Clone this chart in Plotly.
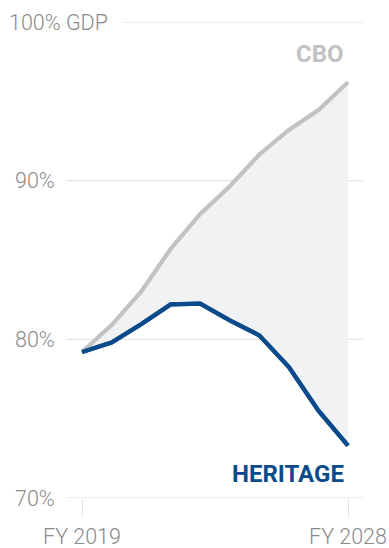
import plotly.graph_objects as go

years = [2019, 2020, 2021, 2022, 2023, 2024, 2025, 2026, 2027, 2028]
cbo = [79.2, 80.9, 83.0, 85.7, 87.9, 89.65, 91.65, 93.2, 94.45, 96.2]
heritage = [79.2, 79.8, 80.95, 82.2, 82.25, 81.2, 80.25, 78.25, 75.5, 73.3]
y_ticks = [70, 80, 90, 100]
y_tick_text = ["70%", "80%", "90%", "100% GDP"]
x_ticks = [2019, 2028]
x_tick_text = ["FY 2019", "FY 2028"]

W, H = 389, 548
L, R, T, B = 67, 26, 21.7, 50.3
PW = W - L - R

def px_to_paper(px):
    return (px - L) / PW

GRAY_TXT = "#8a8a8a"
CBO_COL = "#c2c2c2"
HER_COL = "#0b4a8b"
FILL_COL = "#f1f2f4"
GRID_COL = "#e4e4e4"

fig = go.Figure()
fig.add_trace(go.Scatter(x=years, y=heritage, mode="lines",
                         line=dict(color=HER_COL, width=4.2), showlegend=False,
                         hoverinfo="skip"))
fig.add_trace(go.Scatter(x=years, y=cbo, mode="lines", fill="tonexty",
                         fillcolor=FILL_COL,
                         line=dict(color=CBO_COL, width=4.2), showlegend=False,
                         hoverinfo="skip"))
fig.add_trace(go.Scatter(x=years, y=heritage, mode="lines",
                         line=dict(color=HER_COL, width=4.2), showlegend=False,
                         hoverinfo="skip"))

shapes = []
annotations = []
for v, t in zip(y_ticks, y_tick_text):
    x0 = 0 if v != 100 else px_to_paper(123)
    shapes.append(dict(type="line", xref="paper", yref="y", x0=x0, x1=1,
                       y0=v, y1=v, line=dict(color=GRID_COL, width=1.3),
                       layer="below"))
    if v == 100:
        annotations.append(dict(x=px_to_paper(7), y=v, xref="paper", yref="y",
                                text=t, showarrow=False, xanchor="left",
                                yanchor="middle",
                                font=dict(family="Roboto", size=21.5, color=GRAY_TXT, weight=300)))
    else:
        annotations.append(dict(x=px_to_paper(57), y=v, xref="paper", yref="y",
                                text=t, showarrow=False, xanchor="right",
                                yanchor="middle",
                                font=dict(family="Roboto", size=21.5, color=GRAY_TXT, weight=300)))

annotations.append(dict(x=years[-1], y=cbo[-1], xref="x", yref="y", text="<b>CBO</b>",
                        showarrow=False, xanchor="right", yanchor="bottom",
                        xshift=-2, yshift=12,
                        font=dict(family="Roboto", size=24, color=CBO_COL)))
annotations.append(dict(x=years[-1], y=heritage[-1], xref="x", yref="y", text="<b>HERITAGE</b>",
                        showarrow=False, xanchor="right", yanchor="top",
                        xshift=-2, yshift=-12,
                        font=dict(family="Roboto", size=24, color=HER_COL)))

fig.update_layout(
    width=W, height=H,
    margin=dict(l=L, r=R, t=T, b=B, pad=0, autoexpand=False),
    paper_bgcolor="white", plot_bgcolor="white",
    shapes=shapes, annotations=annotations,
    xaxis=dict(range=[2019 - 15 / 29.56, 2028 + 15 / 29.56], showgrid=False,
               zeroline=False, showline=False, automargin=False,
               tickmode="array", tickvals=x_ticks, ticktext=x_tick_text,
               ticks="outside", ticklen=19, tickwidth=1.3, tickcolor=GRID_COL,
               tickfont=dict(family="Roboto", size=21.5, color=GRAY_TXT, weight=300)),
    yaxis=dict(range=[70, 100], showgrid=False, zeroline=False, showline=False,
               showticklabels=False, ticks="", automargin=False),
)

fig.write_html("out.html")
